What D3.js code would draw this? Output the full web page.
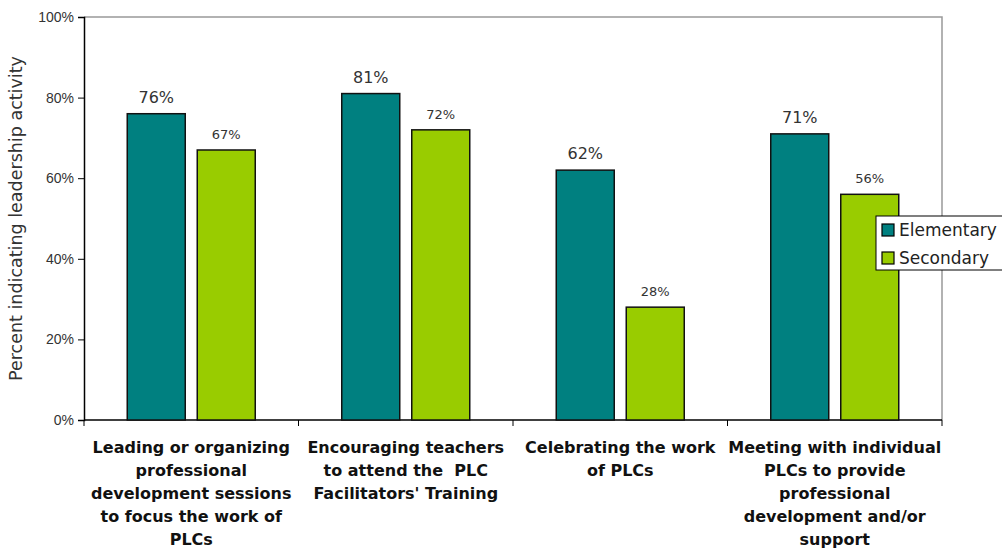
<!DOCTYPE html>
<html>
<head>
<meta charset="utf-8">
<script src="https://cdn.jsdelivr.net/npm/d3@7"></script>
<style>
  body { margin: 0; background: #fff; }
  svg { display: block; font-family: "Century Gothic", "DejaVu Sans", sans-serif; }
</style>
</head>
<body>
<script>
// chart data
const categories = [
  ["Leading or organizing", "professional", "development sessions", "to focus the work of", "PLCs"],
  ["Encouraging teachers", "to attend the  PLC", "Facilitators' Training"],
  ["Celebrating the work", "of PLCs"],
  ["Meeting with individual", "PLCs to provide", "professional", "development and/or", "support"]
]
const seriesNames = ["Elementary", "Secondary"]
const elementary = [76, 81, 62, 71]
const secondary = [67, 72, 28, 56]
const yTicks = [0, 20, 40, 60, 80, 100]

const colors = ["#008080", "#99cc00"]

const width = 1002, height = 550
const margin = {top: 17, right: 60, bottom: 130, left: 84}
const innerW = width - margin.left - margin.right
const innerH = height - margin.top - margin.bottom

const svg = d3.select("body").append("svg")
    .attr("width", width)
    .attr("height", height)

const g = svg.append("g")
    .attr("transform", "translate(" + margin.left + "," + margin.top + ")")

const x = d3.scaleBand().domain(d3.range(categories.length)).range([0, innerW])
const y = d3.scaleLinear().domain([0, 100]).range([innerH, 0])

const barW = 58, offset = 35

// plot frame (gray top/right)
g.append("path")
    .attr("d", "M0,0H" + innerW + "V" + innerH)
    .attr("fill", "none")
    .attr("stroke", "#999")
    .attr("stroke-width", 1.5)

// y axis
const yAxis = d3.axisLeft(y).tickValues(yTicks).tickFormat(d => d + "%").tickSize(6).tickPadding(4)
g.append("g").call(yAxis)
    .call(s => s.select(".domain").attr("stroke", "#000").attr("stroke-width", 1.5))
    .call(s => s.selectAll(".tick line").attr("stroke", "#000"))
    .call(s => s.selectAll("text").attr("font-size", 14).attr("fill", "#333")
        .attr("font-family", "inherit"))

// x axis: ticks on category boundaries
g.append("line")
    .attr("x1", 0).attr("x2", innerW).attr("y1", innerH).attr("y2", innerH)
    .attr("stroke", "#000").attr("stroke-width", 1.5)
g.selectAll(".xtick")
    .data(d3.range(categories.length + 1))
    .enter().append("line")
    .attr("class", "xtick")
    .attr("x1", d => d * x.step()).attr("x2", d => d * x.step())
    .attr("y1", innerH).attr("y2", innerH + 6)
    .attr("stroke", "#000")

// category labels
const labels = g.selectAll(".xlabel")
    .data(categories)
    .enter().append("text")
    .attr("class", "xlabel")
    .attr("text-anchor", "middle")
    .attr("font-size", 16)
    .attr("font-weight", "bold")
    .attr("fill", "#111")
    .style("white-space", "pre")
labels.selectAll("tspan")
    .data((d, i) => d.map(t => ({t: t, i: i})))
    .enter().append("tspan")
    .attr("x", d => x(d.i) + x.bandwidth() / 2)
    .attr("y", (d, j) => innerH + 33 + j * 23)
    .text(d => d.t)

// bars
const series = [elementary, secondary]
series.forEach(function(vals, si) {
    g.selectAll(".bar" + si)
        .data(vals)
        .enter().append("rect")
        .attr("x", (d, i) => x(i) + x.bandwidth() / 2 + (si === 0 ? -offset : offset) - barW / 2)
        .attr("y", d => y(d))
        .attr("width", barW)
        .attr("height", d => innerH - y(d))
        .attr("fill", colors[si])
        .attr("stroke", "#111")
        .attr("stroke-width", 1.5)

    g.selectAll(".val" + si)
        .data(vals)
        .enter().append("text")
        .attr("x", (d, i) => x(i) + x.bandwidth() / 2 + (si === 0 ? -offset : offset))
        .attr("y", d => y(d) - 11)
        .attr("text-anchor", "middle")
        .attr("font-size", si === 0 ? 16 : 13)
        .attr("fill", "#333")
        .text(d => d + "%")
})

// y axis title
svg.append("text")
    .attr("transform", "translate(22," + (margin.top + innerH / 2) + ") rotate(-90)")
    .attr("text-anchor", "middle")
    .attr("font-size", 17.5)
    .attr("fill", "#333")
    .text("Percent indicating leadership activity")

// legend
const legend = svg.append("g").attr("transform", "translate(876,216)")
legend.append("rect")
    .attr("width", 140).attr("height", 54)
    .attr("fill", "#fff").attr("stroke", "#000")
legend.selectAll(".lg")
    .data(seriesNames)
    .enter().append("rect")
    .attr("x", 6).attr("y", (d, i) => 8 + i * 28)
    .attr("width", 12).attr("height", 12)
    .attr("fill", (d, i) => colors[i])
    .attr("stroke", "#000").attr("stroke-width", 1.2)
legend.selectAll(".lt")
    .data(seriesNames)
    .enter().append("text")
    .attr("x", 23).attr("y", (d, i) => 20 + i * 28)
    .attr("font-size", 17)
    .attr("fill", "#222")
    .text(d => d)
</script>
</body>
</html>
